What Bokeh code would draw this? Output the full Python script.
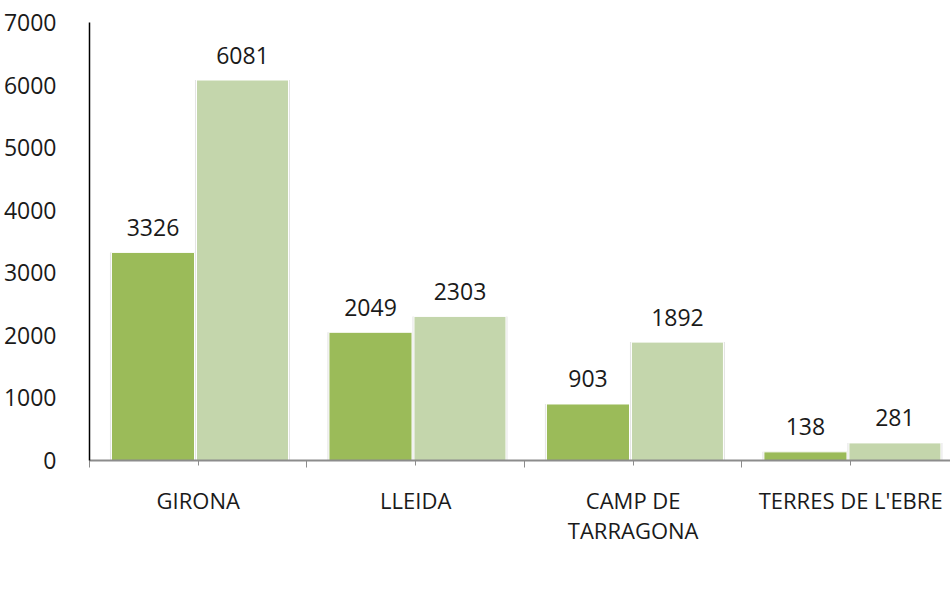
from bokeh.plotting import figure
from bokeh.models import Range1d, FixedTicker, ColumnDataSource, Legend, LegendItem
from bokeh.core.properties import value
from bokeh.embed import file_html
from bokeh.resources import INLINE
import numpy as np

categories = ["GIRONA", "LLEIDA", "CAMP DE\nTARRAGONA", "TERRES DE L'EBRE"]
expedients = [3326, 2049, 903, 138]
menors = [6081, 2303, 1892, 281]
series_names = ["EXPEDIENTS VIGENTS AMB MENORS", "NOMBRE DE MENORS A CÀRREC"]
y_ticks = [0, 1000, 2000, 3000, 4000, 5000, 6000, 7000]

FONT = "Open Sans"
C1 = "#9BBB59"
C2 = "#C4D6AC"

idx = np.arange(len(categories))
x1 = idx + 0.292
x2 = idx + 0.7035
w1 = 0.382
w2 = 0.423

p = figure(width=949, height=595, frame_width=861, frame_height=438,
           min_border_left=88, min_border_right=0, min_border_top=22, min_border_bottom=0,
           x_range=Range1d(0, 3.959), y_range=Range1d(0, 7000),
           output_backend="svg", toolbar_location=None, tools="")
p.outline_line_color = None
p.grid.grid_line_color = None
p.background_fill_color = "white"
p.border_fill_color = "white"

# shadows
sh = ColumnDataSource(dict(x1=x1, x2=x2, e=expedients, m=menors))
p.vbar(x="x1", top="e", width=w1 + 0.014, source=sh, fill_color="#e4e4e4", line_color=None)
p.vbar(x="x2", top="m", width=w2 + 0.014, source=sh, fill_color="#e4e4e4", line_color=None)

src1 = ColumnDataSource(dict(x=x1, top=expedients, lbl=[str(v) for v in expedients]))
src2 = ColumnDataSource(dict(x=x2, top=menors, lbl=[str(v) for v in menors]))
r1 = p.vbar(x="x", top="top", width=w1, source=src1, fill_color=C1, line_color="white", line_width=1)
r2 = p.vbar(x="x", top="top", width=w2, source=src2, fill_color=C2, line_color="white", line_width=1)

for s in (src1, src2):
    p.text(x="x", y="top", text="lbl", source=s, text_font=value(FONT), text_font_size="23px",
           text_align="center", text_baseline="alphabetic", y_offset=-25, text_color="#1a1a1a")

# y axis
ya = p.yaxis[0]
ya.ticker = FixedTicker(ticks=y_ticks)
ya.major_tick_line_color = None
ya.minor_tick_line_color = None
ya.axis_line_color = "#000000"
ya.axis_line_width = 1.5
ya.major_label_text_font = FONT
ya.major_label_text_font_size = "23px"
ya.major_label_text_color = "#1a1a1a"
ya.major_label_standoff = 27

# x axis
xa = p.xaxis[0]
xa.ticker = FixedTicker(ticks=list(idx + 0.5), minor_ticks=list(range(len(categories) + 1)))
xa.major_label_overrides = {float(i + 0.5): c for i, c in enumerate(categories)}
xa.axis_line_color = "#8c8c8c"
xa.axis_line_width = 2
xa.major_tick_line_color = "#8c8c8c"
xa.major_tick_out = 5
xa.major_tick_in = 0
xa.minor_tick_line_color = "#8c8c8c"
xa.minor_tick_out = 7
xa.minor_tick_in = 0
xa.major_label_text_font = FONT
xa.major_label_text_font_size = "22px"
xa.major_label_text_color = "#1a1a1a"
xa.major_label_text_line_height = 1.0
xa.major_label_standoff = 17

legend = Legend(items=[LegendItem(label=series_names[0], renderers=[r1]),
                       LegendItem(label=series_names[1], renderers=[r2])],
                orientation="horizontal", location=(-7, 28),
                label_text_font=FONT, label_text_font_size="21px", label_text_color="#1a1a1a",
                glyph_width=13, glyph_height=13, label_standoff=9, spacing=38,
                padding=0, margin=0, border_line_color=None, background_fill_alpha=0)
p.add_layout(legend, "below")

open("out.html", "w").write(file_html(p, INLINE))
